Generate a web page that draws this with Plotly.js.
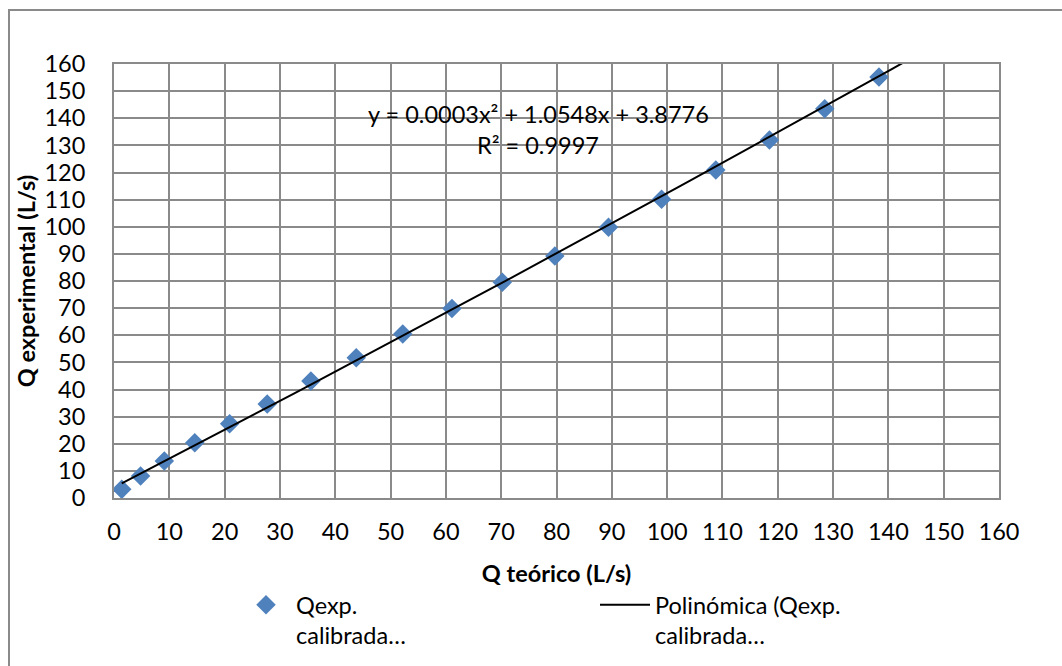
<!DOCTYPE html>
<html>
<head>
<meta charset="utf-8">
<script src="https://cdn.plot.ly/plotly-3.0.1.min.js"></script>
<style>
html,body{margin:0;padding:0;background:#fff;}
#chart{width:1062px;height:666px;}
</style>
</head>
<body>
<div id="chart"></div>
<script>
// Data
const qTeorico = [1.4, 4.8, 9.1, 14.6, 20.9, 27.7, 35.6, 43.8, 52.2, 61.1, 70.2, 79.7, 89.4, 99.0, 108.8, 118.5, 128.5, 138.3];
const qExperimental = [3.2, 8.1, 13.6, 20.4, 27.4, 34.7, 43.1, 51.7, 60.5, 69.9, 79.5, 89.2, 99.8, 110.1, 120.9, 132.0, 143.5, 155.2];
// Polynomial trendline shown on the chart: y = a x^2 + b x + c
const trendCoef = [0.0003, 1.0548, 3.8776];
const trendRange = [1.4, 145];
const axisTicks = [0, 10, 20, 30, 40, 50, 60, 70, 80, 90, 100, 110, 120, 130, 140, 150, 160];
const seriesNames = ["Qexp.<br>calibrada…", "Polinómica (Qexp.<br>calibrada…"];
const eqText = "y = 0.0003x² + 1.0548x + 3.8776";
const r2Text = "R² = 0.9997";

const trendX = [], trendY = [];
const nSteps = 60;
for (let i = 0; i <= nSteps; i++) {
  const x = trendRange[0] + (trendRange[1] - trendRange[0]) * i / nSteps;
  trendX.push(x);
  trendY.push(trendCoef[0] * x * x + trendCoef[1] * x + trendCoef[2]);
}

const FONT = "Lato, 'Open Sans', sans-serif";
const FS = 23.5;
const W = 1062, H = 666;
const L = 114, R = 999, T = 64, B = 498;
const pw = R - L, ph = B - T;

const traces = [
  {
    x: qTeorico, y: qExperimental, type: 'scatter', mode: 'markers',
    name: seriesNames[0],
    marker: {symbol: 'diamond', size: 15, color: '#4f81bd'},
    legend: 'legend'
  },
  {
    x: trendX, y: trendY, type: 'scatter', mode: 'lines',
    name: seriesNames[1],
    line: {color: '#000000', width: 2},
    legend: 'legend2'
  }
];

const axisCommon = {
  range: [0, 160],
  tickvals: axisTicks,
  ticktext: axisTicks.map(String),
  showgrid: true,
  gridcolor: '#8a8a8a',
  gridwidth: 2,
  zeroline: false,
  showline: true,
  linecolor: '#8a8a8a',
  linewidth: 2,
  mirror: true,
  ticks: '',
  automargin: false,
  tickfont: {family: FONT, size: FS, color: '#000'},
  fixedrange: true
};

const layout = {
  width: W, height: H,
  paper_bgcolor: '#fff', plot_bgcolor: '#fff',
  margin: {l: L, r: W - R, t: T, b: H - B, autoexpand: false},
  font: {family: FONT, color: '#000'},
  xaxis: Object.assign({}, axisCommon, {
    ticklabelstandoff: 12,
    title: {text: '<b>Q teórico (L/s)</b>', font: {family: FONT, size: FS, color: '#000'}, standoff: 21}
  }),
  yaxis: Object.assign({}, axisCommon, {
    ticklabelstandoff: 22,
    title: {text: '<b>Q experimental (L/s)</b>', font: {family: FONT, size: FS, color: '#000'}, standoff: 2}
  }),
  showlegend: true,
  legend: {
    xref: 'paper', yref: 'paper',
    x: (236 - L) / pw, y: (B - 583) / ph, xanchor: 'left', yanchor: 'top',
    font: {family: FONT, size: FS, color: '#000'},
    bgcolor: 'rgba(0,0,0,0)', valign: 'top', itemwidth: 50
  },
  legend2: {
    xref: 'paper', yref: 'paper',
    x: (595 - L) / pw, y: (B - 583) / ph, xanchor: 'left', yanchor: 'top',
    font: {family: FONT, size: FS, color: '#000'},
    bgcolor: 'rgba(0,0,0,0)', valign: 'top', itemwidth: 50
  },
  annotations: [
    {xref: 'paper', yref: 'paper', x: (538 - L) / pw, y: (B - 114) / ph,
     text: eqText, showarrow: false, xanchor: 'center', yanchor: 'middle',
     font: {family: FONT, size: FS, color: '#000'}},
    {xref: 'paper', yref: 'paper', x: (538 - L) / pw, y: (B - 145) / ph,
     text: r2Text, showarrow: false, xanchor: 'center', yanchor: 'middle',
     font: {family: FONT, size: FS, color: '#000'}}
  ],
  shapes: [
    {type: 'rect', xref: 'paper', yref: 'paper', layer: 'below',
     x0: (9 - L) / pw, x1: (1075 - L) / pw, y0: (B - 680) / ph, y1: (B - 10) / ph,
     line: {color: '#8a8a8a', width: 2}, fillcolor: 'rgba(0,0,0,0)'}
  ]
};

Plotly.newPlot('chart', traces, layout, {displayModeBar: false, staticPlot: true});
</script>
</body>
</html>
